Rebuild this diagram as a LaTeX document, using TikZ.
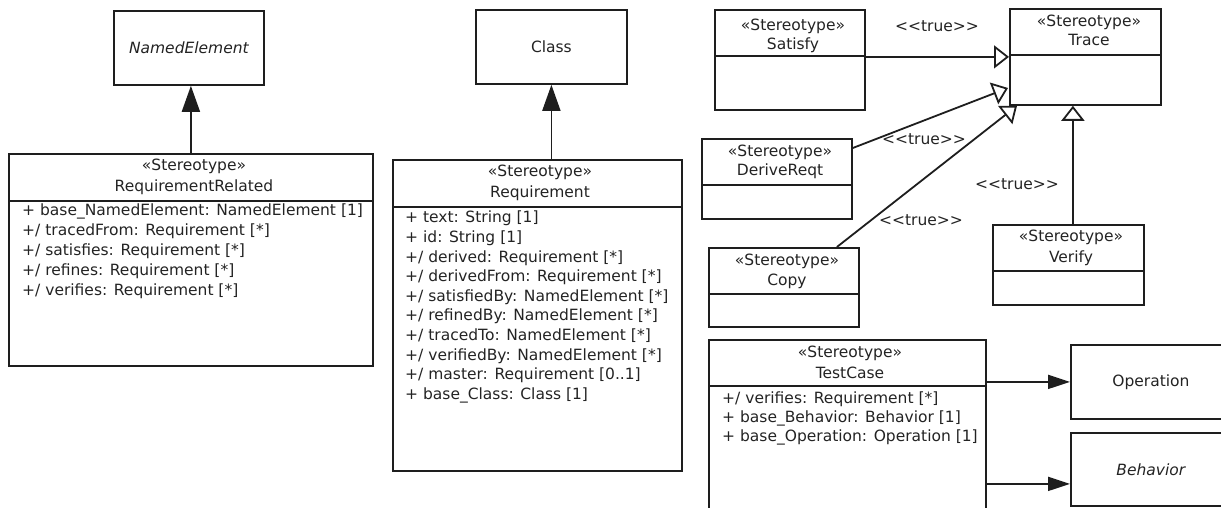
\documentclass[tikz,border=0pt]{standalone}
\usepackage{fontspec}
\setmainfont{DejaVu Sans}
\usetikzlibrary{arrows.meta}
\definecolor{ink}{RGB}{30,30,30}
\definecolor{txt}{RGB}{35,35,35}
\newcommand{\umlfont}{\fontsize{15.5}{19.7}\selectfont}
\begin{document}
\begin{tikzpicture}[x=1pt,y=-1pt,
  box/.style={draw=ink, line width=1.8pt, rectangle, inner sep=0pt, anchor=north west, text=txt, font=\umlfont},
  ttl/.style={text=txt, inner sep=0pt, anchor=mid, font=\umlfont},
  attr/.style={text=txt, inner sep=0pt, anchor=mid west, font=\umlfont},
  sepline/.style={draw=ink, line width=1.8pt},
  gen/.style={draw=ink, line width=1.8pt, -{Triangle[length=26pt,width=18pt]}},
  ext/.style={draw=ink, line width=1.8pt, -{Triangle[length=22pt,width=14pt]}},
  opengen/.style={draw=ink, line width=1.8pt, -{Triangle[open,length=15pt,width=23pt]}}
]
\useasboundingbox (0,0) rectangle (1221,508);
\clip (0,0) rectangle (1221,508);

% plain classes
\node[box, minimum width=150pt, minimum height=74pt, font=\umlfont\itshape] (named) at (113,10) {NamedElement};
\node[box, minimum width=151pt, minimum height=74pt] (class) at (475,9) {Class};
\node[box, minimum width=158pt, minimum height=74pt] (op) at (1070,344) {\hspace*{2pt}Operation};
\node[box, minimum width=158pt, minimum height=73pt, font=\umlfont\itshape] (beh) at (1070,432) {\hspace*{2pt}Behavior};

% RequirementRelated
\node[box, minimum width=364pt, minimum height=212pt] (rr) at (8,153) {};
\draw[sepline] (8,201) -- (372,201);
\node[ttl] (rrs) at (194,168) {«Stereotype»};
\node[ttl] (rrn) at (194,189) {RequirementRelated};
\node[attr] (rr1) at (22,213) {+ base\_NamedElement: NamedElement [1]};
\node[attr] (rr2) at (22,233) {+/ tracedFrom: Requirement [*]};
\node[attr] (rr3) at (22,253) {+/ satisfies: Requirement [*]};
\node[attr] (rr4) at (22,273) {+/ refines: Requirement [*]};
\node[attr] (rr5) at (22,293) {+/ verifies: Requirement [*]};

% Requirement
\node[box, minimum width=289pt, minimum height=311pt] (req) at (392,159) {};
\draw[sepline] (392,207) -- (681,207);
\node[ttl] (reqs) at (540,174) {«Stereotype»};
\node[ttl] (reqn) at (540,195) {Requirement};
\node[attr] (q1) at (405,220.0) {+ text: String [1]};
\node[attr] (q2) at (405,239.6) {+ id: String [1]};
\node[attr] (q3) at (405,259.3) {+/ derived: Requirement [*]};
\node[attr] (q4) at (405,278.9) {+/ derivedFrom: Requirement [*]};
\node[attr] (q5) at (405,298.5) {+/ satisfiedBy: NamedElement [*]};
\node[attr] (q6) at (405,318.2) {+/ refinedBy: NamedElement [*]};
\node[attr] (q7) at (405,337.8) {+/ tracedTo: NamedElement [*]};
\node[attr] (q8) at (405,357.4) {+/ verifiedBy: NamedElement [*]};
\node[attr] (q9) at (405,377.0) {+/ master: Requirement [0..1]};
\node[attr] (q10) at (405,396.7) {+ base\_Class: Class [1]};

% Satisfy
\node[box, minimum width=150pt, minimum height=100pt] (sat) at (714,9) {};
\draw[sepline] (714,56) -- (864,56);
\node[ttl] (sats) at (793,28) {«Stereotype»};
\node[ttl] (satn) at (793,47) {Satisfy};

% Trace
\node[box, minimum width=151pt, minimum height=96pt] (trace) at (1009,8) {};
\draw[sepline] (1009,55) -- (1160,55);
\node[ttl] (trs) at (1089,24) {«Stereotype»};
\node[ttl] (trn) at (1089,43) {Trace};

% DeriveReqt
\node[box, minimum width=150pt, minimum height=80pt] (der) at (701,138) {};
\draw[sepline] (701,185) -- (851,185);
\node[ttl] (ders) at (780,154) {«Stereotype»};
\node[ttl] (dern) at (780,173) {DeriveReqt};

% Copy
\node[box, minimum width=150pt, minimum height=79pt] (copy) at (708,247) {};
\draw[sepline] (708,294) -- (858,294);
\node[ttl] (cps) at (787,263) {«Stereotype»};
\node[ttl] (cpn) at (787,283) {Copy};

% Verify
\node[box, minimum width=151pt, minimum height=80pt] (ver) at (992,224) {};
\draw[sepline] (992,271) -- (1143,271);
\node[ttl] (vrs) at (1071,239) {«Stereotype»};
\node[ttl] (vrn) at (1071,260) {Verify};

% TestCase
\node[box, minimum width=277pt, minimum height=250pt] (tc) at (708,339) {};
\draw[sepline] (708,386) -- (985,386);
\node[ttl] (tcs) at (850,355) {«Stereotype»};
\node[ttl] (tcn) at (850,376) {TestCase};
\node[attr] (tc1) at (722,401) {+/ verifies: Requirement [*]};
\node[attr] (tc2) at (722,420) {+ base\_Behavior: Behavior [1]};
\node[attr] (tc3) at (722,439) {+ base\_Operation: Operation [1]};

% connectors
\draw[gen] (rr.north) -- (rr.north |- named.south);
\draw[gen] (class.south |- req.north) -- (class.south);
\draw[opengen] ([yshift=3pt]sat.east) -- ([yshift=3pt]sat.east -| trace.west);
\draw[opengen] ([yshift=-10pt]der.north east) -- ([yshift=-80pt,xshift=-1pt]trace.north west);
\draw[opengen] ([xshift=53pt]copy.north) -- ([xshift=8pt]trace.south west);
\draw[opengen] ([xshift=4.5pt]ver.north) -- ([xshift=4.5pt]ver.north |- trace.south);
\draw[ext] (op.west -| tc.east) -- (op.west);
\draw[ext] ([yshift=-14.5pt]beh.west -| tc.east) -- ([yshift=-14.5pt]beh.west);

% labels
\node[ttl] (l1) at (937,29) {<{}<true>{}>};
\node[ttl] (l2) at (924,142) {<{}<true>{}>};
\node[ttl] (l3) at (921,223) {<{}<true>{}>};
\node[ttl] (l4) at (1017,187) {<{}<true>{}>};
\end{tikzpicture}
\end{document}
